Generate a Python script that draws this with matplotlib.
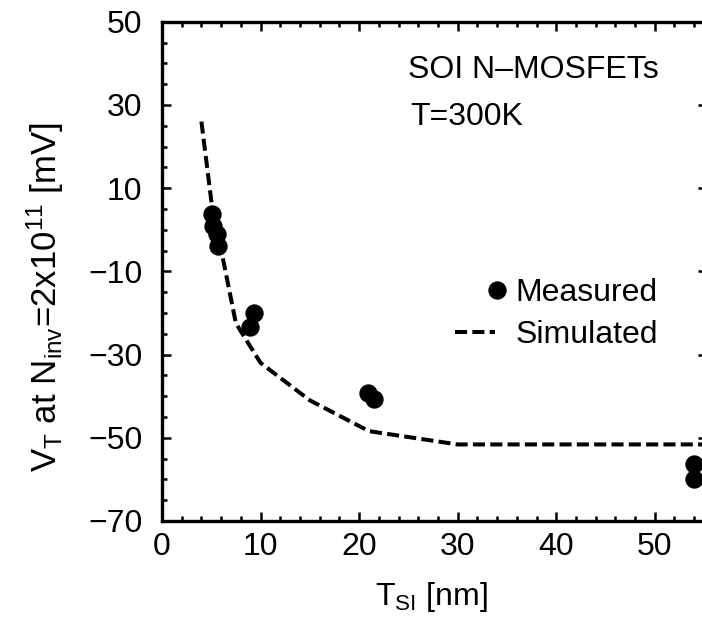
import matplotlib
matplotlib.use('Agg')
import matplotlib.pyplot as plt
from matplotlib.ticker import MultipleLocator
from matplotlib.legend_handler import HandlerLine2D

# Measured threshold voltages
tsi_meas = [5.05, 5.2, 5.55, 5.7, 9.3, 8.9, 20.95, 21.5, 54.0, 54.0]
vt_meas = [3.8, 1.0, -1.0, -3.8, -20.0, -23.3, -39.2, -40.7, -56.4, -60.0]

# Simulated curve
tsi_sim = [4.0, 5.0, 7.5, 10.0, 15.0, 21.0, 30.0, 55.3]
vt_sim = [26.0, 7.0, -22.5, -32.0, -41.0, -48.4, -51.6, -51.6]

plt.rcParams['font.family'] = ['Liberation Sans', 'DejaVu Sans']
plt.rcParams['mathtext.fontset'] = 'custom'
plt.rcParams['mathtext.rm'] = 'Liberation Sans'
plt.rcParams['mathtext.it'] = 'Liberation Sans'
plt.rcParams['mathtext.default'] = 'rm'

FS = 23
W, H = 702, 620
fig = plt.figure(figsize=(W / 100, H / 100), dpi=100)

# axes box in pixels: left 162, right 707 (just off canvas), top 21.7, bottom 521
ax = fig.add_axes([162 / W, (H - 521) / H, (707 - 162) / W, (521 - 21.7) / H])

meas, = ax.plot(tsi_meas, vt_meas, 'o', color='black', markersize=12.2,
                label='Measured')
sim, = ax.plot(tsi_sim, vt_sim, color='black', lw=2.9, dashes=(3, 1.3),
               label='Simulated')

ax.set_xlim(0, 55.3)
ax.set_ylim(-70, 50)
ax.xaxis.set_major_locator(MultipleLocator(10))
ax.xaxis.set_minor_locator(MultipleLocator(2))
ax.set_yticks(range(-70, 51, 20))
ax.yaxis.set_minor_locator(MultipleLocator(5))

for s in ax.spines.values():
    s.set_linewidth(2.4)
ax.tick_params(which='both', direction='in', top=True, right=True,
               labelsize=FS, width=1.8)
ax.tick_params(which='major', length=6.5)
ax.tick_params(which='minor', length=3.6)
ax.tick_params(axis='y', which='major', pad=14)
ax.tick_params(axis='x', which='major', pad=8)

fig.text(431 / W, 1 - 597 / H, r'T$_{\mathrm{SI}}$ [nm]', fontsize=FS,
         ha='center', va='center')
fig.text(45 / W, 1 - 297 / H,
         r'V$_{\mathrm{T}}$ at N$_{\mathrm{inv}}$=2x10$^{11}$ [mV]',
         fontsize=25, ha='center', va='center', rotation=90)

ax.text(0.451, 0.887, 'SOI N\u2013MOSFETs', transform=ax.transAxes,
        fontsize=FS, va='baseline', ha='left')
ax.text(0.455, 0.793, 'T=300K', transform=ax.transAxes,
        fontsize=FS, va='baseline', ha='left')

ax.legend(handles=[meas, sim], loc='center left',
          bbox_to_anchor=(0.5376, 0.4146), frameon=False, fontsize=FS,
          borderpad=0, borderaxespad=0, handlelength=1.26,
          handletextpad=0.63, labelspacing=0.36,
          handler_map={meas: HandlerLine2D(numpoints=1, xpad=1.4)})

fig.savefig('out.png', dpi=100)
